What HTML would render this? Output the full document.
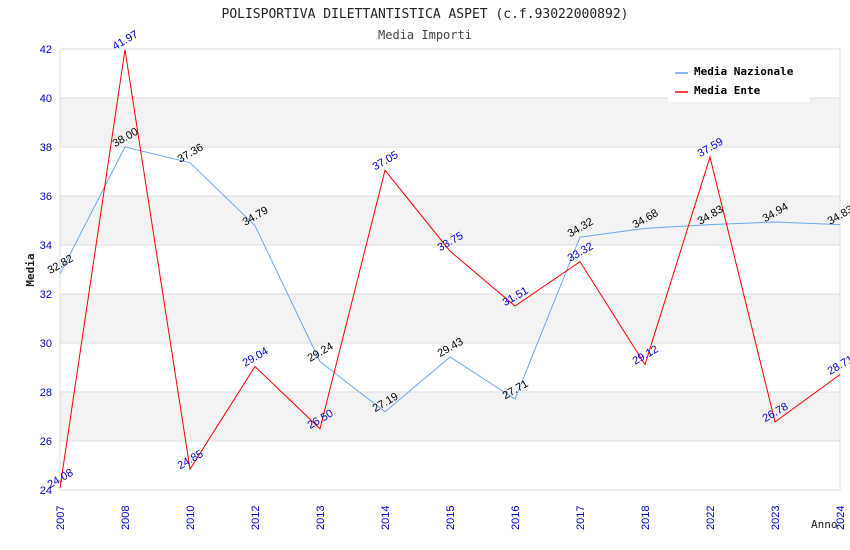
<!DOCTYPE html>
<html><head><meta charset="utf-8"><style>
body{margin:0;background:#fff;}
svg{display:block;font-family:"Liberation Sans","DejaVu Sans",sans-serif;}
</style></head><body>
<svg id="c" width="850" height="550">
<text x="425" y="18" text-anchor="middle" font-family="DejaVu Sans Mono, Liberation Mono, monospace" font-size="13" fill="#222">POLISPORTIVA DILETTANTISTICA ASPET (c.f.93022000892)</text>
<text x="425" y="39" text-anchor="middle" font-family="DejaVu Sans Mono, Liberation Mono, monospace" font-size="12" fill="#444">Media Importi</text>
<g id="bands"></g><g id="grid"></g><g id="axes"></g><g id="series"></g><g id="labels"></g>
<text x="34" y="270" transform="rotate(-90 34 270)" text-anchor="middle" font-family="DejaVu Sans Mono, monospace" font-size="11" font-weight="bold" fill="#222">Media</text>
<text x="811" y="528" font-family="DejaVu Sans Mono, monospace" font-size="11" fill="#222">Anno</text>
<g>
<rect x="668" y="58" width="142" height="44" fill="#fff"/>
<g><line x1="675" y1="73" x2="688" y2="73" stroke="#6aa9f0" stroke-width="1.5"/><text x="694" y="75" font-family="DejaVu Sans Mono, monospace" font-size="11" font-weight="bold" fill="#000">Media Nazionale</text></g>
<g><line x1="675" y1="92" x2="688" y2="92" stroke="#f00" stroke-width="1.5"/><text x="694" y="94" font-family="DejaVu Sans Mono, monospace" font-size="11" font-weight="bold" fill="#000">Media Ente</text></g>
</g>
</svg>
<script>
const years=["2007","2008","2010","2012","2013","2014","2015","2016","2017","2018","2022","2023","2024"];
const nazionale=[32.82,38.00,37.36,34.79,29.24,27.19,29.43,27.71,34.32,34.68,34.83,34.94,34.83];
const ente=[24.08,41.97,24.85,29.04,26.50,37.05,33.75,31.51,33.32,29.12,37.59,26.78,28.71];
const yTicks=[24,26,28,30,32,34,36,38,40,42];
const NS="http://www.w3.org/2000/svg";
const X0=60,X1=840,Y0=490,Y1=49,YMIN=24,YMAX=42;
const x=i=>X0+i*(X1-X0)/(years.length-1);
const y=v=>Y0-(v-YMIN)*(Y0-Y1)/(YMAX-YMIN);
function mk(t,a,p){const e=document.createElementNS(NS,t);for(const k in a)e.setAttribute(k,a[k]);p.appendChild(e);return e;}
const bands=document.getElementById('bands'),grid=document.getElementById('grid'),axes=document.getElementById('axes'),ser=document.getElementById('series'),lab=document.getElementById('labels');
for(let i=0;i<yTicks.length-1;i++){
  if(i%2===1){const r=mk('rect',{x:X0,y:y(yTicks[i+1]),width:X1-X0,height:y(yTicks[i])-y(yTicks[i+1]),fill:'#f3f3f3'},bands);
  
  }
}
yTicks.forEach(t=>{
  const l=mk('line',{x1:X0,x2:X1,y1:y(t),y2:y(t),stroke:'#ddd','stroke-width':1},grid);
  
  
  const tx=mk('text',{x:X0-8,y:y(t)+4,'text-anchor':'end','font-size':11,fill:'#00c'},axes);
  tx.textContent=t;
  
  
});
years.forEach((yr,i)=>{
  const tx=mk('text',{x:x(i)+4,y:Y0+40,transform:`rotate(-90 ${x(i)+4} ${Y0+40})`,'font-size':11,fill:'#00c'},axes);
  tx.textContent=yr;
  
  
});
const ax=mk('path',{d:`M${X0} ${Y1}V${Y0}H${X1}V${Y1}`,fill:'none',stroke:'#ddd'},axes);


function series(vals,color,lc,name){
  const p=mk('polyline',{points:vals.map((v,i)=>x(i)+','+y(v)).join(' '),fill:'none',stroke:color,'stroke-width':1},ser);
  
  
  vals.forEach((v,i)=>{
    const cx=x(i),cy=y(v)-10;
    const t=mk('text',{x:cx,y:cy+4,'text-anchor':'middle','font-size':11,fill:lc,transform:`rotate(-30 ${cx} ${cy})`},lab);
    t.textContent=v.toFixed(2);
    
    
  });
}
series(nazionale,'#6aa9f0','#000','nazionale');
series(ente,'#f00','#00c','ente');
</script>
</body></html>
